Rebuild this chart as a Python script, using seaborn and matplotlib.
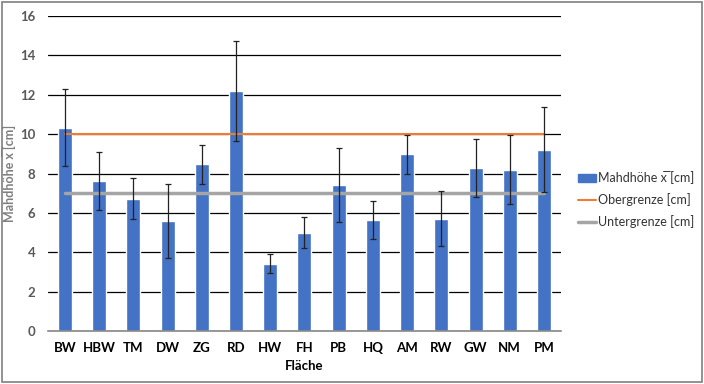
import matplotlib
matplotlib.use("Agg")
import matplotlib.pyplot as plt
import matplotlib.patches as mpatches
from matplotlib.lines import Line2D
import pandas as pd
import seaborn as sns

# data
flaechen = ["BW", "HBW", "TM", "DW", "ZG", "RD", "HW", "FH", "PB", "HQ", "AM", "RW", "GW", "NM", "PM"]
mahdhoehe = [10.34, 7.64, 6.72, 5.6, 8.47, 12.2, 3.43, 5.0, 7.42, 5.66, 8.98, 5.7, 8.27, 8.2, 9.22]
fehler = [1.95, 1.48, 1.03, 1.88, 1.0, 2.53, 0.48, 0.8, 1.87, 0.96, 1.0, 1.4, 1.47, 1.76, 2.16]
obergrenze = 10
untergrenze = 7
yticks = [0, 2, 4, 6, 8, 10, 12, 14, 16]

BLUE = "#4472C4"
ORANGE = "#ED7D31"
GREY = "#A5A5A5"

df = pd.DataFrame({"Fläche": flaechen, "Mahdhöhe": mahdhoehe, "Fehler": fehler})

sns.set_theme(style="white")
plt.rcParams["font.family"] = ["Lato", "DejaVu Sans"]

fig = plt.figure(figsize=(7.04, 3.84), dpi=100)
ax = fig.add_axes([0.068, 0.138, 0.729, 0.82])

sns.barplot(data=df, x="Fläche", y="Mahdhöhe", color=BLUE, width=0.41,
            saturation=1, errorbar=None, ax=ax, zorder=2)
ax.errorbar(range(len(flaechen)), df["Mahdhöhe"], yerr=df["Fehler"], fmt="none",
            ecolor="#222222", elinewidth=0.9, capsize=2.5, capthick=0.9, zorder=4)

n = len(flaechen)
ax.plot([0, n - 1], [obergrenze, obergrenze], color=ORANGE, lw=1.5, zorder=3)
ax.plot([0, n - 1], [untergrenze, untergrenze], color=GREY, lw=2.5, zorder=3)

ax.set_xlim(-0.5, n - 0.5)
ax.set_ylim(0, 16)
ax.set_xticks(range(n), flaechen, fontsize=9.5, fontweight="bold", color="black")
ax.set_yticks(yticks, [str(v) for v in yticks], fontsize=9.5, fontweight="bold", color="#595959")
ax.yaxis.grid(True, color="black", lw=0.9, zorder=0)
ax.set_axisbelow(True)
for side in ["top", "right", "left"]:
    ax.spines[side].set_visible(False)
ax.spines["bottom"].set_color("#888888")
ax.spines["bottom"].set_linewidth(1.2)
ax.tick_params(axis="x", length=0, pad=8)
ax.tick_params(axis="y", length=0, pad=9)

ax.set_xlabel("Fläche", fontsize=9.5, fontweight="bold", color="black", labelpad=4)
ax.set_ylabel("Mahdhöhe x\u0305 [cm]", fontsize=9, fontweight="bold", color="#7f7f7f", labelpad=3)

handles = [
    mpatches.Patch(color=BLUE, label="Mahdhöhe x\u0305 [cm]"),
    Line2D([0], [0], color=ORANGE, lw=1.5, label="Obergrenze [cm]"),
    Line2D([0], [0], color=GREY, lw=2.5, label="Untergrenze [cm]"),
]
fig.legend(handles=handles, loc="center left", bbox_to_anchor=(0.81, 0.48),
           frameon=False, fontsize=9, handlelength=1.5, handletextpad=0.15,
           labelspacing=0.7, borderaxespad=0.2, labelcolor="#333333")

fig.patches.append(mpatches.Rectangle((0.003, 0.005), 0.994, 0.99, transform=fig.transFigure,
                                      fill=False, edgecolor="#7f7f7f", lw=1.2))

fig.savefig("out.png", dpi=100)
